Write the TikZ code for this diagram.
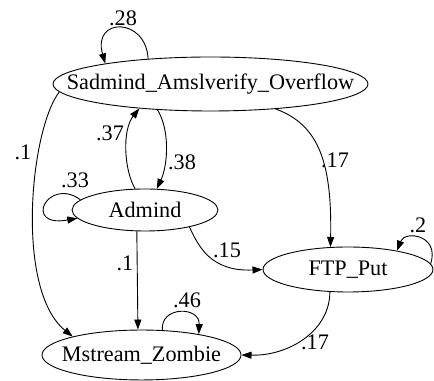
\documentclass[tikz,border=0pt]{standalone}
\usepackage{fontspec}
\setmainfont{Liberation Serif}
\usetikzlibrary{shapes.geometric,arrows.meta}
\begin{document}
\begin{tikzpicture}[x=0.6667pt,y=-0.6667pt,
  st/.style={draw,ellipse,inner sep=0pt,line width=0.6pt},
  lbl/.style={inner sep=0pt,font=\fontsize{14.8pt}{17pt}\selectfont},
  ed/.style={line width=0.6pt,-{Triangle[length=6.7pt,width=4.7pt]}}]
\useasboundingbox (0,0) rectangle (434,381);
\node[st,minimum width=210pt,minimum height=36pt,label={[lbl]center:Sadmind\_Amslverify\_Overflow}] (sad) at (210.5,84) {};
\node[st,minimum width=97.3pt,minimum height=28pt,label={[lbl]center:Admind}] (adm) at (145,210) {};
\node[st,minimum width=113.3pt,minimum height=30pt,label={[lbl]center:FTP\_Put}] (ftp) at (348,269.5) {};
\node[st,minimum width=132.7pt,minimum height=33.3pt,label={[lbl]center:Mstream\_Zombie}] (ms) at (141.5,355) {};
% edges
\draw[ed] (sad.158.6) .. controls (146,17) and (92,17) .. (sad.169.5);
\draw[ed] (sad.183.4) .. controls (30,130) and (15,290) .. (ms.165.1);
\draw[ed] (adm.115.5) .. controls (124,170) and (122,130) .. (sad.199.2);
\draw[ed] (sad.206.8) .. controls (170,130) and (168,165) .. (adm.61.4);
\draw[ed] (adm.171.9) .. controls (48,176) and (22,228) .. (adm.187);
\draw[ed] (sad.339.5) .. controls (320,125) and (332,165) .. (ftp.128.7);
\draw[ed] (adm.339.3) .. controls (198,245) and (210,272) .. (ftp.180);
\draw[ed] (ftp.4.4) .. controls (440,235) and (405,230) .. (ftp.21.3);
\draw[ed] (adm.249) -- (ms.98);
\draw[ed] (ms.50.6) .. controls (160,306) and (200,306) .. (ms.20);
\draw[ed] (ftp.231.3) .. controls (330,330) and (290,356) .. (ms.0);
% labels
\node[lbl] (l28) at (123,18) {.28};
\node[lbl] (l10a) at (23,152) {.1};
\node[lbl] (l37) at (110,133) {.37};
\node[lbl] (l38) at (182,162) {.38};
\node[lbl] (l33) at (75,180) {.33};
\node[lbl] (l17a) at (335,160) {.17};
\node[lbl] (l15) at (227,250) {.15};
\node[lbl] (l2) at (418,225) {.2};
\node[lbl] (l10b) at (125,263) {.1};
\node[lbl] (l46) at (187,300) {.46};
\node[lbl] (l17b) at (315,342) {.17};
\end{tikzpicture}
\end{document}
